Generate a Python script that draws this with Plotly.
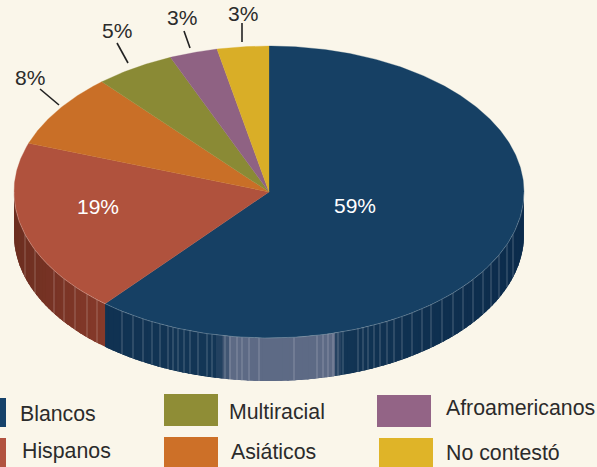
import math
import plotly.graph_objects as go

# Data
categories = ["Blancos", "Hispanos", "Asiáticos", "Multiracial", "Afroamericanos", "No contestó"]
percent_labels = [59, 19, 8, 5, 3, 3]
slice_shares = [61.1, 19.3, 8.2, 5.06, 3.05, 3.27]
colors = ["#164064", "#b0523d", "#c96f27", "#8a8a35", "#8f6283", "#d9ae27"]
legend_colors = ["#16426a", "#b25340", "#cd7028", "#8f8d36", "#936486", "#dfb428"]

# Layout of the drawing (pixel-like axis units)
CX, CY, RX, RY, DEPTH = 269, 192, 255, 146, 43
BG = "#faf6ea"
TEXT = "#2b2b2b"
FONT = "Liberation Sans, Arial, sans-serif"
value_label_pos = [(355, 205), (98, 206), (30, 77), (117, 30), (182, 17), (243, 13)]
leader_lines = [None, None, ((40, 89), (59, 105)), ((117, 43), (128, 63)),
                ((184, 31), (190, 48)), ((242, 23), (242, 42))]
legend_boxes = [(-2, 398, 6, 427), (-2, 438, 6, 467), (164, 437, 218, 467),
                (164, 394, 218, 426), (377, 395, 431, 427), (379, 438, 433, 467)]
legend_text_pos = [(20, 414), (22, 451), (231, 452), (229, 412), (446, 408), (446, 453)]
# decorative ribs on the wall
rib_x = [25, 35, 54, 64, 75, 87, 97, 122, 133, 143, 152, 160, 168, 173, 178, 184, 190,
         198, 207, 212, 225, 230, 237, 242, 249, 259, 294, 317, 323, 328, 333, 338, 343,
         358, 363, 368, 374, 380, 387, 394, 402, 412, 422, 431, 442, 453, 463, 473, 483,
         491, 499, 507, 513]


def pt(theta, dy=0.0):
    """Parametric ellipse point; theta in degrees clockwise from the top."""
    t = math.radians(theta)
    return CX + RX * math.sin(t), CY - RY * math.cos(t) + dy


def mix(a, b, f):
    f = max(0.0, min(1.0, f))
    return "rgb(" + ",".join(str(round(x + (y - x) * f)) for x, y in zip(a, b)) + ")"


def wall_colour(theta, x):
    if theta > boundary:
        return mix((108, 46, 32), (134, 58, 42), (x - 14) / 90)
    f = 1 - abs(x - 250) / 270
    blue = tuple(p + (q - p) * f for p, q in zip((12, 44, 76), (20, 56, 88)))
    pale = (93, 106, 133)
    if x < 216 or x > 340:
        return mix(blue, blue, 0)
    g = min(1.0, (x - 216) / 16) if x < 232 else min(1.0, (340 - x) / 7)
    return mix(blue, pale, g)


total = sum(slice_shares)
boundary = slice_shares[0] / total * 360
fig = go.Figure()

# wall strips: each one runs on under the next, so no seams show
step = 1.5
for lo, hi in ((90.0, boundary), (boundary, 270.0)):
    th = lo
    while th < hi:
        a, b = th, min(th + step, hi)
        mid = (a + b) / 2
        ext = min(b + 2.0, hi)
        arc = [a + (ext - a) * i / 4 for i in range(5)]
        top = [pt(t) for t in arc]
        bot = [pt(t, DEPTH) for t in reversed(arc)]
        xs = [p[0] for p in top + bot] + [top[0][0]]
        ys = [p[1] for p in top + bot] + [top[0][1]]
        c = wall_colour(mid, pt(mid)[0])
        fig.add_trace(go.Scatter(x=xs, y=ys, mode="lines", fill="toself", fillcolor=c,
                                 line=dict(color=c, width=0), hoverinfo="skip", showlegend=False))
        th = b

# ribs
rx_, ry_ = [], []
for x in rib_x:
    s = (x - CX) / RX
    yy = CY + RY * math.sqrt(max(0.0, 1 - s * s))
    rx_ += [x, x, None]
    ry_ += [yy, yy + DEPTH, None]
fig.add_trace(go.Scatter(x=rx_, y=ry_, mode="lines",
                         line=dict(color="rgba(255,255,255,0.25)", width=1),
                         hoverinfo="skip", showlegend=False))

# top face
start = 0.0
for name, share, label, col in zip(categories, slice_shares, percent_labels, colors):
    end = start + share / total * 360
    n = max(4, int((end - start) * 2))
    xs, ys = [CX], [CY]
    for i in range(n + 1):
        px, py = pt(start + (end - start) * i / n)
        xs.append(px)
        ys.append(py)
    xs.append(CX)
    ys.append(CY)
    fig.add_trace(go.Scatter(x=xs, y=ys, mode="lines", fill="toself", fillcolor=col,
                             line=dict(color=col, width=0.3), name=name,
                             hovertemplate=f"{name}: {label}%<extra></extra>", showlegend=False))
    start = end

# rim highlight
rim = [pt(90 + i) for i in range(181)]
fig.add_trace(go.Scatter(x=[p[0] for p in rim], y=[p[1] for p in rim], mode="lines",
                         line=dict(color="rgba(255,255,255,0.3)", width=0.8),
                         hoverinfo="skip", showlegend=False))

shapes, annotations = [], []
for i, (name, label) in enumerate(zip(categories, percent_labels)):
    lx, ly = value_label_pos[i]
    annotations.append(dict(x=lx, y=ly, text=f"{label}%", showarrow=False, xanchor="center", yanchor="middle",
                            font=dict(family=FONT, size=21, color="#ffffff" if i < 2 else TEXT)))
    if leader_lines[i]:
        (a0, b0), (a1, b1) = leader_lines[i]
        shapes.append(dict(type="line", x0=a0, y0=b0, x1=a1, y1=b1, line=dict(color="#222222", width=1.6)))
    bx0, by0, bx1, by1 = legend_boxes[i]
    shapes.append(dict(type="rect", x0=bx0, y0=by0, x1=bx1, y1=by1, line=dict(width=0),
                       fillcolor=legend_colors[i]))
    tx, ty = legend_text_pos[i]
    annotations.append(dict(x=tx - 2, y=ty, text=name, showarrow=False, xanchor="left", yanchor="middle",
                            font=dict(family=FONT, size=21.3, color=TEXT)))

fig.update_layout(
    width=597, height=467, margin=dict(l=0, r=0, t=0, b=0),
    paper_bgcolor=BG, plot_bgcolor=BG, showlegend=False,
    xaxis=dict(range=[0, 597], visible=False, fixedrange=True),
    yaxis=dict(range=[467, 0], visible=False, fixedrange=True),
    shapes=shapes, annotations=annotations,
)
fig.write_html("out.html", config={"displayModeBar": False},
               post_script=f"document.body.style.margin='0';document.body.style.background='{BG}';document.body.style.overflow='hidden';")
